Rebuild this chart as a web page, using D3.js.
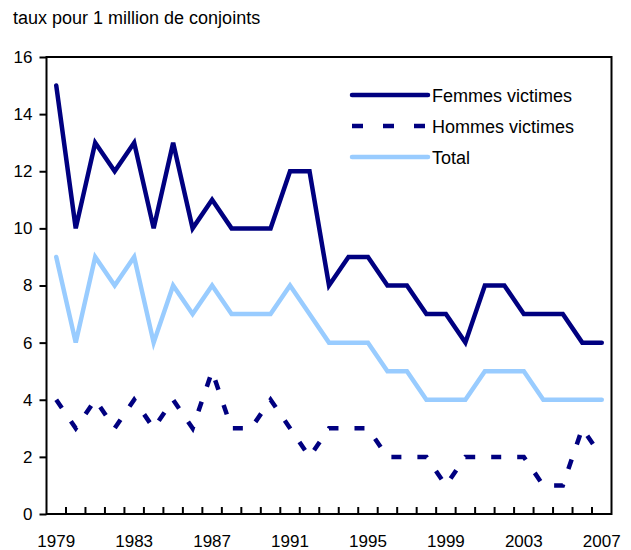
<!DOCTYPE html>
<html><head><meta charset="utf-8">
<script src="https://cdn.jsdelivr.net/npm/d3@7"></script>
<style>body{margin:0;background:#fff}svg{display:block;font-family:"Liberation Sans",Arial,Helvetica,sans-serif}</style>
</head><body>
<svg id="c" width="631" height="550"></svg>
<script>
const years = d3.range(1979, 2008);
const femmes = [15,10,13,12,13,10,13,10,11,10,10,10,12,12,8,9,9,8,8,7,7,6,8,8,7,7,7,6,6];
const hommes = [4,3,4,3,4,3,4,3,5,3,3,4,3,2,3,3,3,2,2,2,1,2,2,2,2,1,1,3,2];
const total  = [9,6,9,8,9,6,8,7,8,7,7,7,8,7,6,6,6,5,5,4,4,4,5,5,5,4,4,4,4];
const yTicks = [0,2,4,6,8,10,12,14,16];
const xLabels = [1979,1983,1987,1991,1995,1999,2003,2007];
const seriesNames = ["Femmes victimes","Hommes victimes","Total"];

const svg = d3.select("#c");
const L = 46.5, R = 611.5, T = 57, B = 514;
const x = d3.scaleBand().domain(years).range([L, R]);
const y = d3.scaleLinear().domain([0,16]).range([B, T]);
const navy = "#000080", light = "#99ccff";

svg.append("text").attr("x", 13).attr("y", 24).attr("font-size", 18).attr("fill","#000")
  .text("taux pour 1 million de conjoints");

// frame
svg.append("rect").attr("x", L).attr("y", T).attr("width", R-L).attr("height", B-T)
  .attr("fill","none").attr("stroke","#000").attr("stroke-width",2);

// y axis
const ya = svg.append("g").attr("transform",`translate(${L},0)`)
  .call(d3.axisLeft(y).tickValues(yTicks).tickSize(7).tickPadding(7));
ya.select(".domain").remove();
ya.selectAll("line").attr("stroke","#000").attr("stroke-width",2);
ya.selectAll("text").attr("font-size",17).attr("fill","#000").attr("font-family","Liberation Sans, Arial, sans-serif");

// x axis: ticks at band boundaries pointing up
const bounds = years.slice(1).map(d => x(d));
svg.append("g").selectAll("line").data(bounds).join("line")
  .attr("x1", d=>d).attr("x2", d=>d).attr("y1", B).attr("y2", B-7)
  .attr("stroke","#000").attr("stroke-width",2);
svg.append("g").selectAll("text").data(xLabels).join("text")
  .attr("x", d => x(d) + x.bandwidth()/2).attr("y", 547)
  .attr("text-anchor","middle").attr("font-size",17).attr("fill","#000").text(d=>d);

const line = d3.line().x((d,i)=>x(years[i]) + x.bandwidth()/2).y(d=>y(d));
svg.append("path").datum(total).attr("d", line).attr("fill","none")
  .attr("stroke", light).attr("stroke-width",4.5).attr("stroke-linejoin","miter").attr("stroke-linecap","round");
svg.append("path").datum(hommes).attr("d", line).attr("fill","none")
  .attr("stroke", navy).attr("stroke-width",4.5).attr("stroke-dasharray","10,16").attr("stroke-dashoffset",0);
svg.append("path").datum(femmes).attr("d", line).attr("fill","none")
  .attr("stroke", navy).attr("stroke-width",4.5).attr("stroke-linejoin","miter").attr("stroke-linecap","round");

// legend
const leg = [{n:seriesNames[0], c:navy, dash:null, y:95},
             {n:seriesNames[1], c:navy, dash:"11,20", y:126},
             {n:seriesNames[2], c:light, dash:null, y:157}];
const lg = svg.append("g");
leg.forEach(d => {
  lg.append("line").attr("x1",352).attr("x2",428).attr("y1",d.y).attr("y2",d.y)
    .attr("stroke",d.c).attr("stroke-width",4.5)
    .attr("stroke-linecap", d.dash ? "butt" : "round")
    .attr("stroke-dasharray", d.dash);
  lg.append("text").attr("x",432).attr("y",d.y+6.5).attr("font-size",18).attr("fill","#000").text(d.n);
});
</script>
</body></html>
